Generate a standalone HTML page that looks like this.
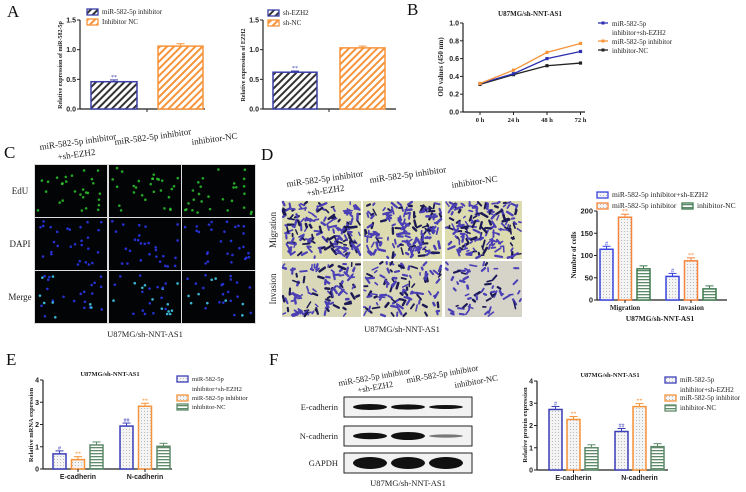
<!DOCTYPE html>
<html><head><meta charset="utf-8"><style>
html,body{margin:0;padding:0;background:#fff}
svg{display:block;font-family:"Liberation Serif",serif}
</style></head><body>
<svg id="fig" width="746" height="492" viewBox="0 0 746 492" xmlns="http://www.w3.org/2000/svg">
<defs>
<pattern id="hatchDark" width="5" height="5" patternUnits="userSpaceOnUse" patternTransform="rotate(45)"><rect width="5" height="5" fill="#fff"/><rect width="2" height="5" fill="#333"/></pattern>
<pattern id="hatchOr" width="5" height="5" patternUnits="userSpaceOnUse" patternTransform="rotate(45)"><rect width="5" height="5" fill="#fff"/><rect width="2" height="5" fill="#f7943a"/></pattern>
<pattern id="dots" width="3" height="3" patternUnits="userSpaceOnUse"><rect width="3" height="3" fill="#f4f4f4"/><rect width="1" height="1" fill="#bbb"/></pattern>
<pattern id="stripes" width="3" height="3" patternUnits="userSpaceOnUse"><rect width="3" height="3" fill="#fff"/><rect width="3" height="1.3" fill="#5f8a6a"/></pattern>
</defs>
<g id="letters" font-size="17" fill="#111">
<text x="7" y="17">A</text>
<text x="407" y="15">B</text>
<text x="4" y="158">C</text>
<text x="261" y="160">D</text>
<text x="6" y="365">E</text>
<text x="269" y="365">F</text>
</g>
<g id="gA1"></g>
<g id="gA2"></g>
<g id="gB"></g>
<g id="gC"></g>
<g id="gD"></g>
<g id="gDc"></g>
<g id="gE"></g>
<g id="gF"></g>
<g id="gFc"></g>
</svg>
<script>
// ---- data ----
const aCats1 = ['miR-582-5p inhibitor','Inhibitor NC'];
const aVals1 = [0.46, 1.06];
const aErr1 = [0.03, 0.04];
const aCats2 = ['sh-EZH2','sh-NC'];
const aVals2 = [0.62, 1.03];
const aErr2 = [0.02, 0.03];
const aTicks = [0, 0.5, 1.0, 1.5];
const bTimes = ['0 h','24 h','48 h','72 h'];
const bBlue = [0.32, 0.43, 0.60, 0.68];
const bOrange = [0.32, 0.47, 0.67, 0.77];
const bBlack = [0.31, 0.42, 0.52, 0.55];
const bTicks = [0, 0.2, 0.4, 0.6, 0.8, 1.0];
const dGroups = ['Migration','Invasion'];
const dBlue = [114, 53];
const dOrange = [186, 88];
const dGreen = [70, 25];
const dTicks = [0, 50, 100, 150, 200];
const eGroups = ['E-cadherin','N-cadherin'];
const eBlue = [0.68, 1.93];
const eOrange = [0.42, 2.82];
const eGreen = [1.08, 1.02];
const fBlue = [2.72, 1.73];
const fOrange = [2.27, 2.85];
const fGreen = [1.0, 1.05];
const efTicks = [0, 1, 2, 3, 4];

const NS='http://www.w3.org/2000/svg';
function mk(parent, tag, attrs, text){
  const e=document.createElementNS(NS,tag);
  for(const k in attrs) e.setAttribute(k,attrs[k]);
  if(text!==undefined) e.textContent=text;
  parent.appendChild(e); return e;
}
function scale(d0,d1,r0,r1){return v=>r0+(v-d0)/(d1-d0)*(r1-r0);}

function yAxis(g,x,y,ticks,fmt,x1,fs){
  const ax=mk(g,'line',{x1:x,y1:y(ticks[ticks.length-1]),x2:x,y2:y(ticks[0]),stroke:'#222','stroke-width':1.2});
  
  
  const bx=mk(g,'line',{x1:x,y1:y(ticks[0]),x2:x1,y2:y(ticks[0]),stroke:'#222','stroke-width':1.2});
  
  
  ticks.forEach(t=>{
    mk(g,'line',{x1:x-3,y1:y(t),x2:x,y2:y(t),stroke:'#222'});
    const l=mk(g,'text',{x:x-4,y:y(t)+2.5,'font-size':fs||7,'text-anchor':'end','font-family':'Liberation Sans','font-weight':'bold',fill:'#222'},fmt(t));
    
    
  });
}
function bar(g,x0,x1,y,v,fill,stroke,err,name,star){
  const r=mk(g,'rect',{x:x0,y:y(v),width:x1-x0,height:y(0)-y(v),fill:fill,stroke:stroke,'stroke-width':1.5});
  
  
  const cx=(x0+x1)/2, ye=y(v)-err;
  mk(g,'line',{x1:cx,y1:y(v),x2:cx,y2:ye,stroke:stroke});
  mk(g,'line',{x1:cx-4,y1:ye,x2:cx+4,y2:ye,stroke:stroke});
  if(star) mk(g,'text',{x:cx,y:ye-1,'font-size':6,'text-anchor':'middle',fill:stroke},star);
}
function ytitle(g,x,y,txt,fs){
  const t=mk(g,'text',{x:0,y:0,transform:`translate(${x},${y}) rotate(-90)`,'font-size':fs||6.5,'text-anchor':'middle','font-weight':'bold',fill:'#222'},txt);
  
  
}
function legendItem(g,x,y,fill,stroke,txt,fs){
  const s=mk(g,'rect',{x:x,y:y-5,width:11,height:6,fill:fill,stroke:stroke,'stroke-width':1.3});
  
  
  const t=mk(g,'text',{x:x+15,y:y,'font-size':fs||7.5,fill:'#222'},txt);
  
  
}

// ---- Panel A ----
(function(){
  const g=document.getElementById('gA1');
  const y=scale(0,1.5,109,20);
  yAxis(g,80,y,aTicks,t=>t.toFixed(1),205);
  mk(g,'line',{x1:147,y1:109,x2:147,y2:112,stroke:'#222'});
  bar(g,91,137,y,aVals1[0],'url(#hatchDark)','#3b3fa8',y(0)-y(aErr1[0]),'bar-mir582-inhibitor','**');
  bar(g,158,203,y,aVals1[1],'url(#hatchOr)','#f7943a',y(0)-y(aErr1[1]),'bar-inhibitor-nc');
  ytitle(g,62,65,'Relative expression of miR-582-5p',6);
  legendItem(g,87,14,'url(#hatchDark)','#3b3fa8',aCats1[0],7);
  legendItem(g,87,24,'url(#hatchOr)','#f7943a',aCats1[1],7);
  const g2=document.getElementById('gA2');
  yAxis(g2,263,y,aTicks,t=>t.toFixed(1),396);
  mk(g2,'line',{x1:329,y1:109,x2:329,y2:112,stroke:'#222'});
  bar(g2,273,317,y,aVals2[0],'url(#hatchDark)','#3b3fa8',y(0)-y(aErr2[0]),'bar-sh-ezh2','**');
  bar(g2,340,385,y,aVals2[1],'url(#hatchOr)','#f7943a',y(0)-y(aErr2[1]),'bar-sh-nc');
  ytitle(g2,245,65,'Relative expression of EZH2',6);
  legendItem(g2,268,15,'url(#hatchDark)','#3b3fa8',aCats2[0],7);
  legendItem(g2,268,25,'url(#hatchOr)','#f7943a',aCats2[1],7);
})();

// ---- Panel B ----
(function(){
  const g=document.getElementById('gB');
  const y=scale(0,1.0,112,23);
  const x=i=>480+i*33.5;
  yAxis(g,463,y,bTicks,t=>t.toFixed(1),585);
  bTimes.forEach((t,i)=>{
    mk(g,'line',{x1:x(i),y1:112,x2:x(i),y2:115,stroke:'#222'});
    const l=mk(g,'text',{x:x(i),y:122,'font-size':6.5,'text-anchor':'middle','font-weight':'bold',fill:'#222'},t);
    
    
  });
  const tt=mk(g,'text',{x:530,y:16,'font-size':7,'text-anchor':'middle','font-weight':'bold',fill:'#222'},'U87MG/sh-NNT-AS1');
  
  
  ytitle(g,443,67,'OD values (450 nm)',7);
  const series=[[bBlack,'#222','line-inhibitor-nc'],[bBlue,'#2b2fb0','line-inhibitor-sh-ezh2'],[bOrange,'#f7943a','line-mir582-inhibitor']];
  series.forEach(([vals,c,n])=>{
    const p=mk(g,'polyline',{points:vals.map((v,i)=>x(i)+','+y(v)).join(' '),fill:'none',stroke:c,'stroke-width':1.3});
    
    
    vals.forEach((v,i)=>{
      const m=mk(g,'rect',{x:x(i)-1.6,y:y(v)-1.6,width:3.2,height:3.2,fill:c});
      
      
    });
  });
  const lg=[['#2b2fb0',25,'miR-582-5p'],['#f7943a',43,'miR-582-5p inhibitor'],['#222',52,'inhibitor-NC']];
  lg.forEach(([c,yy,t])=>{
    mk(g,'line',{x1:598,y1:yy-2,x2:608,y2:yy-2,stroke:c,'stroke-width':1.3});
    mk(g,'rect',{x:601.5,y:yy-3.5,width:3,height:3,fill:c});
    const l=mk(g,'text',{x:612,y:yy+1,'font-size':7,fill:'#222'},t);
    
    
  });
  mk(g,'text',{x:612,y:35,'font-size':7,fill:'#222'},'inhibitor+sh-EZH2');
})();

// deterministic decoration generator (not chart data)
let seed=7; function rnd(){seed=(seed*16807)%2147483647;return seed/2147483647;}

// ---- Panel C ----
(function(){
  const g=document.getElementById('gC');
  const cols=[[35,107],[109,181],[182,255]], rows=[[165,217],[218,270],[271,323]];
  const rowNames=['EdU','DAPI','Merge'], rowCol=['#2fd02f','#2a35e8','#3fc8e8'];
  mk(g,'rect',{x:34,y:164,width:222,height:160,fill:'#ddd'});
  rows.forEach((r,ri)=>{
    cols.forEach((c,ci)=>{
      const im=mk(g,'rect',{x:c[0],y:r[0],width:c[1]-c[0],height:r[1]-r[0],fill:'#020406'});
      
      
      for(let k=0;k<28;k++){
        const col = ri==2 ? (rnd()<0.5?'#3fc8e8':'#2a35e8') : rowCol[ri];
        mk(g,'circle',{cx:c[0]+3+rnd()*(c[1]-c[0]-6),cy:r[0]+3+rnd()*(r[1]-r[0]-6),r:1.3,fill:col,opacity:ri==0?0.8:0.9});
      }
    });
    const l=mk(g,'text',{x:20,y:(r[0]+r[1])/2+3,'font-size':9,'text-anchor':'middle',fill:'#222'},rowNames[ri]);
    
    
  });
  const hdr=[['miR-582-5p inhibitor',40,150],['+sh-EZH2',58,160],['miR-582-5p inhibitor',115,145],['inhibitor-NC',192,145]];
  hdr.forEach(([t,x,y])=>{
    const l=mk(g,'text',{x:0,y:0,transform:`translate(${x},${y}) rotate(-8)`,'font-size':9,fill:'#222'},t);
    
    
  });
  const cap=mk(g,'text',{x:145,y:337,'font-size':8.5,'text-anchor':'middle',fill:'#222'},'U87MG/sh-NNT-AS1');
  
  
})();

// ---- Panel D images ----
(function(){
  const g=document.getElementById('gD');
  const cols=[[282,361],[363,442],[445,522]], rows=[[201,259],[261,317]];
  rows.forEach((r,ri)=>{
    cols.forEach((c,ci)=>{
      const bg = ri==0?'#dcdcb0':(ci==2?'#d6d4c8':'#d9d8b8');
      const im=mk(g,'rect',{x:c[0],y:r[0],width:c[1]-c[0],height:r[1]-r[0],fill:bg});
      
      
      const n = ri==0?160:(ci==2?60:100);
      for(let k=0;k<n;k++){
        const x=c[0]+2+rnd()*(c[1]-c[0]-4), y=r[0]+2+rnd()*(r[1]-r[0]-4), a=rnd()*6.28, L=2+rnd()*5;
        mk(g,'line',{x1:x,y1:y,x2:Math.min(c[1]-1,Math.max(c[0]+1,x+Math.cos(a)*L)),y2:Math.min(r[1]-1,Math.max(r[0]+1,y+Math.sin(a)*L)),stroke:rnd()<0.3?'#1c1a55':'#4a3fb5','stroke-width':1.4+rnd()*1.2,'stroke-linecap':'round'});
      }
    });
  });
  [['Migration',230],['Invasion',289]].forEach(([t,y])=>{
    const l=mk(g,'text',{x:0,y:0,transform:`translate(276,${y}) rotate(-90)`,'font-size':9,'text-anchor':'middle',fill:'#222'},t);
    
    
  });
  const hdr=[['miR-582-5p inhibitor',287,187],['+sh-EZH2',307,196],['miR-582-5p inhibitor',370,183],['inhibitor-NC',452,188]];
  hdr.forEach(([t,x,y])=>{
    const l=mk(g,'text',{x:0,y:0,transform:`translate(${x},${y}) rotate(-8)`,'font-size':9,fill:'#222'},t);
    
    
  });
  const cap=mk(g,'text',{x:402,y:332,'font-size':8.5,'text-anchor':'middle',fill:'#222'},'U87MG/sh-NNT-AS1');
  
  
})();

// ---- grouped bar charts ----
function grouped(g,y,ticks,x0,xEnd,groupStarts,bw,gap,series,labels,labelY,fs){
  yAxis(g,x0,y,ticks,t=>String(t),xEnd,fs);
  groupStarts.forEach((gs,gi)=>{
    series.forEach((s,si)=>{
      const xa=gs+si*(bw+gap);
      bar(g,xa,xa+bw,y,s.vals[gi],s.fill,s.stroke,3,'bar-'+s.name+'-'+labels[gi].toLowerCase(),s.stars?s.stars[gi]:undefined);
    });
    const mid=gs+(3*bw+2*gap)/2;
    mk(g,'line',{x1:mid,y1:y(0),x2:mid,y2:y(0)+3,stroke:'#222'});
    const l=mk(g,'text',{x:mid,y:labelY,'font-size':7,'text-anchor':'middle','font-weight':'bold','font-family':g.id=='gDc'?'Liberation Serif':'Liberation Sans',fill:'#222'},labels[gi]);
    
    
  });
}
(function(){
  const g=document.getElementById('gDc');
  const y=scale(0,200,300,211);
  grouped(g,y,dTicks,597,727,[600,666],13,5.5,[
    {vals:dBlue,fill:'url(#dots)',stroke:'#3b46e0',name:'inhibitor-sh-ezh2',stars:['#','#']},
    {vals:dOrange,fill:'url(#dots)',stroke:'#f7843a',name:'mir582-inhibitor',stars:['**','**']},
    {vals:dGreen,fill:'url(#stripes)',stroke:'#3f7a4f',name:'inhibitor-nc'}],dGroups,310,7.5);
  ytitle(g,576,255,'Number of cells',7);
  const t=mk(g,'text',{x:660,y:321,'font-size':7.5,'text-anchor':'middle','font-weight':'bold',fill:'#222'},'U87MG/sh-NNT-AS1');
  
  
  legendItem(g,597,197,'url(#dots)','#3b46e0','miR-582-5p inhibitor+sh-EZH2',7.5);
  legendItem(g,597,208,'url(#dots)','#f7843a','miR-582-5p inhibitor',7.5);
  legendItem(g,682,208,'url(#stripes)','#3f7a4f','inhibitor-NC',7.5);
})();
(function(){
  const g=document.getElementById('gE');
  const y=scale(0,4,469,380);
  grouped(g,y,efTicks,43,172,[53,120],13,5.5,[
    {vals:eBlue,fill:'url(#dots)',stroke:'#3b3fb8',name:'inhibitor-sh-ezh2',stars:['#','##']},
    {vals:eOrange,fill:'url(#dots)',stroke:'#f7943a',name:'mir582-inhibitor',stars:['**','**']},
    {vals:eGreen,fill:'url(#stripes)',stroke:'#5f8a6a',name:'inhibitor-nc'}],eGroups,479,7);
  ytitle(g,33,425,'Relative mRNA expression',6.5);
  const t=mk(g,'text',{x:110,y:376,'font-size':6.5,'text-anchor':'middle','font-weight':'bold',fill:'#222'},'U87MG/sh-NNT-AS1');
  
  
  legendItem(g,177,381,'url(#dots)','#3b3fb8','miR-582-5p',6.5);
  mk(g,'text',{x:192,y:391,'font-size':6.5,fill:'#222'},'inhibitor+sh-EZH2');
  legendItem(g,177,400,'url(#dots)','#f7943a','miR-582-5p inhibitor',6.5);
  legendItem(g,177,409,'url(#stripes)','#5f8a6a','inhibitor-NC',6.5);
})();
(function(){
  const g=document.getElementById('gFc');
  const y=scale(0,4,470,381);
  grouped(g,y,efTicks,537,668,[549,615],13,5,[
    {vals:fBlue,fill:'url(#dots)',stroke:'#3b3fb8',name:'inhibitor-sh-ezh2',stars:['#','##']},
    {vals:fOrange,fill:'url(#dots)',stroke:'#f7943a',name:'mir582-inhibitor',stars:['**','**']},
    {vals:fGreen,fill:'url(#stripes)',stroke:'#5f8a6a',name:'inhibitor-nc'}],eGroups,480,7);
  ytitle(g,527,425,'Relative protein expression',6.5);
  const t=mk(g,'text',{x:610,y:377,'font-size':6.5,'text-anchor':'middle','font-weight':'bold',fill:'#222'},'U87MG/sh-NNT-AS1');
  
  
  legendItem(g,665,382,'url(#dots)','#3b3fb8','miR-582-5p',7);
  mk(g,'text',{x:680,y:392,'font-size':7,fill:'#222'},'inhibitor+sh-EZH2');
  legendItem(g,665,400,'url(#dots)','#f7943a','miR-582-5p inhibitor',7);
  legendItem(g,665,410,'url(#stripes)','#5f8a6a','inhibitor-NC',7);
})();

// ---- Panel F blots ----
(function(){
  const g=document.getElementById('gF');
  const rows=[['E-cadherin',397,417,[3,2.6,2]],['N-cadherin',426,446,[3.2,4,1.6]],['GAPDH',453,473,[6,6,6]]];
  const lanes=[370,408,446];
  rows.forEach(([n,y0,y1,th])=>{
    const b=mk(g,'rect',{x:344,y:y0,width:128,height:y1-y0,fill:'#f2f2f2',stroke:'#222','stroke-width':1});
    
    
    lanes.forEach((lx,i)=>{
      mk(g,'ellipse',{cx:lx,cy:(y0+y1)/2,rx:17,ry:th[i],fill:n=='N-cadherin'&&i==2?'#777':'#111'});
    });
    const l=mk(g,'text',{x:338,y:(y0+y1)/2+3,'font-size':8.5,'text-anchor':'end',fill:'#222'},n);
    
    
  });
  const hdr=[['miR-582-5p inhibitor',339,386],['+sh-EZH2',358,393],['miR-582-5p inhibitor',407,383],['inhibitor-NC',455,388]];
  hdr.forEach(([t,x,y])=>{
    const l=mk(g,'text',{x:0,y:0,transform:`translate(${x},${y}) rotate(-10)`,'font-size':8.5,fill:'#222'},t);
    
    
  });
  const cap=mk(g,'text',{x:408,y:486,'font-size':8.5,'text-anchor':'middle',fill:'#222'},'U87MG/sh-NNT-AS1');
  
  
})();
</script>
</body></html>
